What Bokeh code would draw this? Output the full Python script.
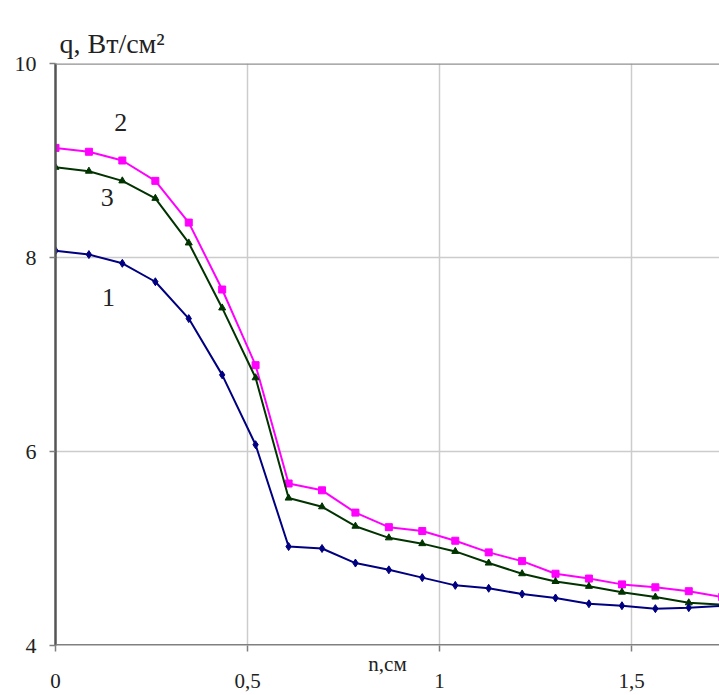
from bokeh.plotting import figure
from bokeh.models import (Range1d, FixedTicker, CustomJSTickFormatter, Span, Label,
                          LinearAxis, Title)
from bokeh.embed import file_html
from bokeh.resources import INLINE

# distance n, cm
n_cm = [0.0, 0.087, 0.174, 0.26, 0.347, 0.434, 0.521, 0.607, 0.694, 0.781, 0.868,
        0.955, 1.041, 1.128, 1.215, 1.302, 1.389, 1.475, 1.562, 1.649, 1.736]
# curve 1 (blue)
q1 = [8.07, 8.03, 7.94, 7.75, 7.37, 6.79, 6.07, 5.02, 5.00, 4.85, 4.78,
      4.70, 4.62, 4.59, 4.53, 4.49, 4.43, 4.41, 4.38, 4.39, 4.41]
# curve 2 (magenta)
q2 = [9.13, 9.09, 9.00, 8.79, 8.36, 7.67, 6.89, 5.67, 5.60, 5.37, 5.22,
      5.18, 5.08, 4.96, 4.87, 4.74, 4.69, 4.63, 4.60, 4.56, 4.50]
# curve 3 (dark green)
q3 = [8.93, 8.89, 8.79, 8.61, 8.15, 7.48, 6.76, 5.52, 5.43, 5.23, 5.11,
      5.05, 4.97, 4.85, 4.74, 4.66, 4.61, 4.55, 4.50, 4.44, 4.42]

x_ticks = [0, 0.5, 1, 1.5]
y_ticks = [4, 6, 8, 10]

curve_labels = ["2", "3", "1"]
curve_label_x = [0.17, 0.135, 0.138]
curve_label_y = [9.39, 8.62, 7.59]

SERIF = "Liberation Serif"
TXT = "#222222"

p = figure(width=719, height=695, output_backend="svg", toolbar_location=None,
           x_range=Range1d(0, 1.729), y_range=Range1d(4, 10),
           min_border_left=55, min_border_top=63, min_border_bottom=50, min_border_right=0,
           x_axis_location=None)
p.outline_line_color = None
p.background_fill_color = "white"
p.border_fill_color = "white"

# title (y quantity)
p.add_layout(Title(text="q, Вт/см²", text_font=SERIF, text_font_size="28px",
                   text_font_style="normal", text_color=TXT, align="left",
                   offset=4, standoff=10), "above")

# grid
p.xgrid.ticker = FixedTicker(ticks=x_ticks)
p.ygrid.ticker = FixedTicker(ticks=y_ticks)
p.grid.grid_line_color = "#cccccc"
p.grid.grid_line_width = 1.5

# x axis: ticks and the axis title (no tick labels); bounds place the title left of centre
xa = LinearAxis(ticker=FixedTicker(ticks=x_ticks),
                formatter=CustomJSTickFormatter(code="return '';"),
                axis_label="n,см", bounds=(0, 1.58))
xa.axis_line_color = None
xa.major_tick_line_color = "#808080"
xa.major_tick_line_width = 1.5
xa.major_tick_out = 6
xa.major_tick_in = 0
xa.minor_tick_line_color = None
xa.major_label_standoff = 0
xa.major_label_text_font_size = "1px"
xa.axis_label_standoff = 0
xa.axis_label_text_font = SERIF
xa.axis_label_text_font_size = "21px"
xa.axis_label_text_font_style = "normal"
xa.axis_label_text_color = TXT
p.add_layout(xa, "below")

# second x axis carrying only the tick labels
xb = LinearAxis(ticker=FixedTicker(ticks=x_ticks),
                formatter=CustomJSTickFormatter(code="return tick.toString().replace('.', ',');"))
xb.axis_line_color = None
xb.major_tick_line_color = None
xb.minor_tick_line_color = None
xb.major_tick_out = 0
xb.major_tick_in = 0
xb.major_label_standoff = -5
xb.major_label_text_font = SERIF
xb.major_label_text_font_size = "21px"
xb.major_label_text_color = TXT
p.add_layout(xb, "below")

# y axis
ya = p.yaxis[0]
ya.ticker = FixedTicker(ticks=y_ticks)
ya.axis_line_color = "#555555"
ya.axis_line_width = 2.5
ya.major_tick_line_color = "#808080"
ya.major_tick_line_width = 1.5
ya.major_tick_out = 6
ya.major_tick_in = 0
ya.minor_tick_line_color = None
ya.major_label_text_font = SERIF
ya.major_label_text_font_size = "22px"
ya.major_label_text_color = TXT
ya.major_label_standoff = 13

# frame borders (top and bottom axis line)
p.add_layout(Span(location=10, dimension="width", line_color="#909090", line_width=2.5))
p.add_layout(Span(location=4, dimension="width", line_color="#808080", line_width=3))

# curves
p.line(n_cm, q2, line_color="#ff00ff", line_width=2)
p.scatter(n_cm, q2, marker="square", size=7, color="#ff00ff")
p.line(n_cm, q3, line_color="#003300", line_width=2)
p.scatter(n_cm, q3, marker="triangle", size=7, color="#003300")
p.line(n_cm, q1, line_color="#000080", line_width=2)
p.scatter(n_cm, q1, marker="diamond", size=8, color="#000080")

# curve numbers
for t, xx, yy in zip(curve_labels, curve_label_x, curve_label_y):
    p.add_layout(Label(x=xx, y=yy, text=t, text_font=SERIF, text_font_size="26px",
                       text_align="center", text_baseline="middle", text_color=TXT))

open("out.html", "w").write(file_html(p, INLINE))
